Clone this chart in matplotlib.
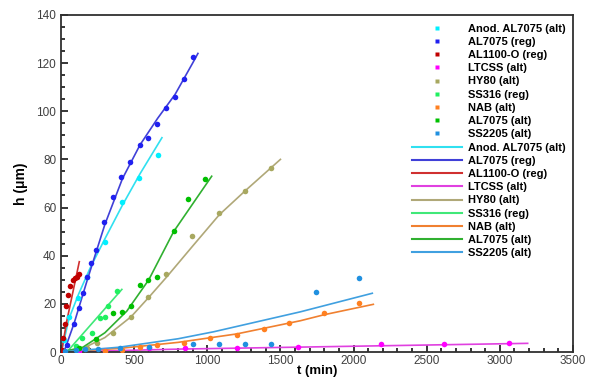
import matplotlib
matplotlib.use("Agg")
import matplotlib.pyplot as plt
from matplotlib.lines import Line2D
from matplotlib.ticker import MultipleLocator

plt.rcParams['font.family'] = ['Liberation Sans', 'DejaVu Sans']

labels = ['Anod. AL7075 (alt)', 'AL7075 (reg)', 'AL1100-O (reg)', 'LTCSS (alt)',
          'HY80 (alt)', 'SS316 (reg)', 'NAB (alt)', 'AL7075 (alt)', 'SS2205 (alt)']
pt_colors = ['#00f0ff', '#2020f0', '#c00000', '#ff00ff', '#a8a860',
             '#20f060', '#ff8020', '#00c000', '#2090e0']
ln_colors = ['#30e0f0', '#4040d8', '#d03030', '#e040e0', '#b0a878',
             '#40e878', '#f08030', '#30b030', '#40a0e0']

# measured points (t in min, h in um)
t_anod = [20, 55, 114, 176, 301, 416, 534, 660]
h_anod = [5, 14.4, 22.4, 31.3, 45.7, 62.4, 72.2, 81.8]
t_al7075r = [40, 89, 121, 149, 180, 203, 238, 295, 358, 413, 475, 537, 598, 655, 717, 776, 838, 902]
h_al7075r = [3, 11.5, 18.1, 24.4, 31, 36.8, 42.4, 54.1, 64.3, 72.8, 78.8, 86, 88.8, 94.7, 101.5, 106, 113.3, 122.7]
t_al1100 = [5, 16, 27, 34, 50, 62, 80, 96, 112, 123]
h_al1100 = [1, 6, 11.5, 19, 23.7, 27.5, 30, 30.6, 31.3, 32.3]
t_ltcss = [120, 300, 600, 850, 1200, 1620, 2190, 2615, 3060]
h_ltcss = [0.3, 0.6, 1.5, 1.5, 1.6, 2.2, 3.2, 3.2, 3.9]
t_hy80 = [180, 245, 354, 480, 598, 717, 895, 1082, 1260, 1436]
h_hy80 = [1.5, 3.6, 8, 14.7, 22.7, 32.2, 48.2, 57.6, 67, 76.3]
t_ss316 = [100, 142, 210, 267, 301, 324, 386]
h_ss316 = [2.5, 5.7, 7.8, 14, 14.4, 19.1, 25.3]
t_nab = [300, 420, 541, 655, 838, 1016, 1203, 1386, 1557, 1797, 2039]
h_nab = [0.3, 1.0, 2.2, 2.9, 3.9, 5.9, 7.1, 9.4, 11.9, 16.3, 20.5]
t_al7075a = [120, 238, 358, 420, 480, 541, 598, 655, 769, 865, 986]
h_al7075a = [1.5, 5.3, 16.3, 16.7, 19.1, 27.8, 29.9, 31, 50.4, 63.6, 71.9]
t_ss2205 = [30, 100, 164, 250, 404, 600, 902, 1078, 1260, 1436, 1740, 2039]
h_ss2205 = [0.3, 0.8, 1.2, 1.2, 1.5, 2.0, 3.2, 3.2, 3.2, 3.2, 25, 30.9]

# fitted curves
tf_anod = [10, 55, 120, 200, 300, 420, 540, 690]
hf_anod = [2, 14, 24, 35, 47, 61, 74, 89]
tf_al7075r = [20, 90, 180, 300, 420, 540, 660, 780, 900, 936]
hf_al7075r = [0, 12, 30, 53, 72, 86, 97, 107, 120, 124]
tf_al1100 = [3, 40, 125]
hf_al1100 = [0, 13, 37.5]
tf_ltcss = [0, 800, 1600, 2400, 3190]
hf_ltcss = [0, 1.2, 2.0, 2.8, 3.6]
tf_hy80 = [0, 150, 300, 480, 600, 720, 900, 1082, 1260, 1500]
hf_hy80 = [0, 1.5, 6, 14.7, 22.7, 31, 44, 57, 67, 80]
tf_ss316 = [40, 416]
hf_ss316 = [0, 26]
tf_nab = [0, 400, 800, 1200, 1637, 1800, 2135]
hf_nab = [0, 1.5, 4, 7.5, 13, 15.5, 19.8]
tf_al7075a = [0, 150, 300, 450, 600, 770, 1030]
hf_al7075a = [0, 2, 8, 17, 30, 50, 73]
tf_ss2205 = [0, 400, 800, 1043, 1637, 2128]
hf_ss2205 = [0, 2, 5.5, 8.4, 16.7, 24.4]

pts = [(t_anod, h_anod), (t_al7075r, h_al7075r), (t_al1100, h_al1100), (t_ltcss, h_ltcss),
       (t_hy80, h_hy80), (t_ss316, h_ss316), (t_nab, h_nab), (t_al7075a, h_al7075a),
       (t_ss2205, h_ss2205)]
fits = [(tf_anod, hf_anod), (tf_al7075r, hf_al7075r), (tf_al1100, hf_al1100), (tf_ltcss, hf_ltcss),
        (tf_hy80, hf_hy80), (tf_ss316, hf_ss316), (tf_nab, hf_nab), (tf_al7075a, hf_al7075a),
        (tf_ss2205, hf_ss2205)]

fig = plt.figure(figsize=(5.9, 3.82), dpi=100)
ax = fig.add_axes([0.1034, 0.0785, 0.8678, 0.8825])

for (t, h), (tf, hf), c1, c2 in zip(pts, fits, pt_colors, ln_colors):
    ax.plot(tf, hf, color=c2, lw=1.2, zorder=2)
    ax.plot(t, h, 'o', color=c1, ms=4, mec='none', zorder=3)

ax.set_xlim(0, 3500)
ax.set_ylim(0, 140)
ax.xaxis.set_major_locator(MultipleLocator(500))
ax.xaxis.set_minor_locator(MultipleLocator(100))
ax.yaxis.set_major_locator(MultipleLocator(20))
ax.yaxis.set_minor_locator(MultipleLocator(5))
ax.tick_params(which='both', direction='in', top=False, right=False,
               labelsize=8.5, labelcolor='#404040', width=1.1)
ax.tick_params(which='major', length=5)
ax.tick_params(which='minor', length=3)
ax.tick_params(axis='x', pad=2)
for s in ax.spines.values():
    s.set_linewidth(1.3)
    s.set_color('#303030')

ax.set_xlabel('t (min)', fontsize=9.5, fontweight='bold', labelpad=-1)
ax.set_ylabel('h (\u03bcm)', fontsize=10, fontweight='bold', labelpad=6)

handles = [Line2D([], [], ls='none', marker='s', ms=3.5, color=c, mec='none') for c in pt_colors]
handles += [Line2D([], [], color=c, lw=1.5) for c in ln_colors]
ax.legend(handles, labels + labels, loc='upper left', bbox_to_anchor=(0.69, 0.95),
          bbox_transform=fig.transFigure, frameon=False, handlelength=4.5,
          handletextpad=0.6, labelspacing=0.29, borderaxespad=0,
          prop={'size': 8, 'weight': 'bold'})

fig.savefig('out.png', dpi=100)
